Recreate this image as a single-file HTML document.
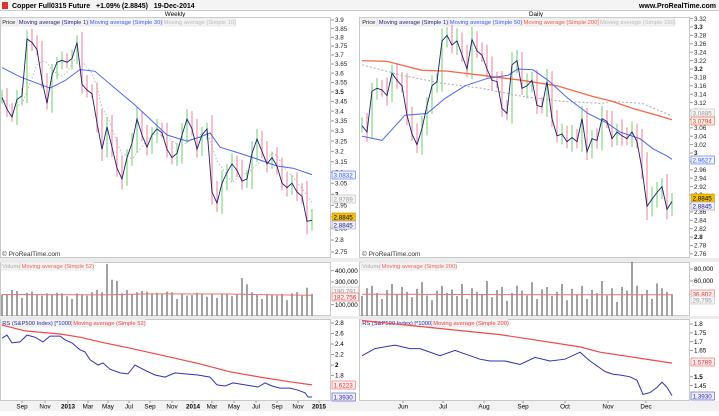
<!DOCTYPE html>
<html><head><meta charset="utf-8"><style>
body{margin:0;background:#fff;width:719px;height:411px;overflow:hidden;font-family:"Liberation Sans",sans-serif;}
svg text{font-family:"Liberation Sans",sans-serif;}
</style></head><body>
<svg id="c" width="719" height="411" viewBox="0 0 719 411" xmlns="http://www.w3.org/2000/svg">
<rect x="0" y="0" width="719" height="411" fill="#fff"/>
<rect x="0" y="0" width="719" height="10" fill="#f4f4f4"/>
<line x1="0" y1="10.5" x2="719" y2="10.5" stroke="#ccc"/>
<rect x="2" y="2" width="6" height="7" fill="#d33"/>
<text x="12" y="8" font-size="7" font-weight="bold">Copper Full0315 Future&#160;&#160;&#160;+1.09% (2.8845)&#160;&#160;&#160;19-Dec-2014</text>
<text x="716" y="8" font-size="7" font-weight="bold" text-anchor="end">www.ProRealTime.com</text>
<text x="175" y="16" font-size="6.3" text-anchor="middle">Weekly</text>
<text x="536" y="16" font-size="6.3" text-anchor="middle">Daily</text>
<g id="g"></g>
</svg>
<script>
// ---------- WEEKLY DATA ----------
const wkClose=[3.47,3.41,3.37,3.46,3.48,3.79,3.77,3.73,3.56,3.44,3.59,3.66,3.67,3.66,3.68,3.77,3.54,3.51,3.49,3.34,3.21,3.32,3.22,3.12,3.07,3.17,3.24,3.36,3.28,3.22,3.28,3.31,3.29,3.21,3.17,3.19,3.28,3.36,3.31,3.21,3.28,3.31,3.01,2.96,3.05,3.10,3.14,3.11,3.06,3.07,3.19,3.26,3.20,3.14,3.17,3.13,3.05,3.03,3.05,3.01,2.99,2.88,2.8845];
const wkWick=[0.04,0.05,0.03,0.05,0.04,0.05,0.06,0.04,0.05,0.04,0.06,0.03,0.05,0.04,0.05,0.04,0.06,0.05,0.03,0.06,0.07,0.05,0.06,0.05,0.06,0.04,0.05,0.06,0.04,0.05,0.04,0.05,0.03,0.05,0.04,0.05,0.06,0.05,0.04,0.05,0.04,0.03,0.07,0.05,0.06,0.04,0.05,0.04,0.05,0.04,0.06,0.05,0.04,0.05,0.03,0.05,0.04,0.05,0.04,0.05,0.04,0.07,0.05];
const wkMa30Idx=[0,3.6,9.6,12.6,15.6,18.6,23,26.2,29.6,33,37,39.6,41.6,43.6,47.6,50.2,55,58.2,62];
const wkMa30Val=[3.63,3.58,3.52,3.56,3.62,3.61,3.51,3.44,3.36,3.28,3.25,3.27,3.29,3.22,3.19,3.17,3.13,3.12,3.09];
const wkVol=[190,195,230,220,160,205,215,190,180,200,190,205,200,175,150,200,185,180,210,230,210,460,320,310,200,230,190,210,220,215,200,205,195,215,210,150,200,180,185,205,200,170,195,160,200,190,175,190,335,280,210,185,150,195,190,180,195,140,200,210,180,250,195];
const wkVolMaIdx=[0,20,30,45,55,62];
const wkVolMaVal=[190,186,195,194,186,183];
const wkRsIdx=[0,1,2,3.6,5,6.6,8.2,9.6,11.6,12.6,14,15.6,16.6,17.6,19.2,20.2,21.6,23.6,25.2,26.6,28.6,30.6,32.6,34.6,36.6,39.2,41.6,43,44.6,46.2,48.6,51.2,52.6,54,55.6,57.6,59.2,60.6,61.2,62];
const wkRsVal=[2.51,2.57,2.42,2.44,2.57,2.53,2.44,2.55,2.55,2.48,2.42,2.29,2.25,2.10,2.00,2.04,1.92,1.85,1.83,2.00,1.90,1.81,1.77,1.85,1.83,1.81,1.77,1.62,1.60,1.66,1.62,1.58,1.66,1.60,1.56,1.56,1.52,1.47,1.39,1.39];
const wkRsMaIdx=[0,4.6,11.6,15.6,19.6,25.6,33.6,39.6,45.6,51.6,57.6,62];
const wkRsMaVal=[2.76,2.65,2.59,2.53,2.44,2.32,2.15,2.02,1.87,1.77,1.68,1.62];
const wkPriceTicks=[3.9,3.85,3.8,3.75,3.7,3.65,3.6,3.55,3.5,3.45,3.4,3.35,3.3,3.25,3.2,3.15,3.1,3.05,3,2.95,2.9,2.85,2.8,2.75];
const wkMonthLabels=["Sep","Nov","2013","Mar","May","Jul","Sep","Nov","2014","Mar","May","Jul","Sep","Nov","2015"];
const wkMonthIdx=[4,8.6,13.2,17.2,21.2,25.4,29.6,34,38.2,42,46.4,50.8,55,59.2,63.4];
// ---------- DAILY DATA ----------
const dyClose=[3.065,3.05,3.147,3.154,3.15,3.137,3.19,3.173,3.16,3.09,3.045,3.02,3.058,3.113,3.16,3.17,3.267,3.28,3.257,3.267,3.233,3.20,3.27,3.243,3.233,3.20,3.173,3.17,3.106,3.094,3.21,3.22,3.154,3.16,3.173,3.113,3.11,3.17,3.082,3.041,3.045,3.027,3.037,3.027,3.082,3.003,3.034,3.03,3.082,3.075,3.034,3.05,3.041,3.034,3.05,3.027,2.962,2.873,2.89,2.906,2.92,2.866,2.8845];
const dyWick=[0.02,0.03,0.02,0.025,0.02,0.03,0.02,0.025,0.02,0.03,0.02,0.025,0.03,0.02,0.025,0.02,0.03,0.02,0.025,0.03,0.02,0.025,0.03,0.02,0.02,0.025,0.03,0.02,0.025,0.02,0.03,0.025,0.02,0.03,0.02,0.025,0.02,0.03,0.025,0.02,0.025,0.02,0.03,0.02,0.03,0.025,0.02,0.025,0.03,0.02,0.025,0.02,0.03,0.02,0.025,0.02,0.03,0.04,0.03,0.025,0.02,0.03,0.02];
const dyMa50Idx=[0,4,8.6,13,16.6,20.6,25.2,29.2,31.2,34.2,37.2,41.2,45.2,49.2,51.6,55.6,58.2,61,62];
const dyMa50Val=[3.04,3.03,3.09,3.094,3.13,3.16,3.178,3.185,3.20,3.198,3.173,3.13,3.094,3.07,3.05,3.034,3.01,2.993,2.985];
const dyMa200Idx=[0,5,12,17,24,32,39,46,50,54.2,59,62];
const dyMa200Val=[3.22,3.218,3.197,3.195,3.185,3.173,3.16,3.135,3.123,3.106,3.09,3.0794];
const dyMa150Idx=[0,8,16,24,32,40,48,50,56,62];
const dyMa150Val=[3.21,3.185,3.166,3.154,3.135,3.123,3.118,3.123,3.118,3.0885];
const dyVol=[35,48,52,40,30,45,55,38,50,42,33,47,58,36,28,44,52,40,46,35,55,30,48,42,38,60,33,45,50,27,40,52,44,36,58,30,46,50,35,42,55,28,47,38,52,30,45,40,60,36,48,25,50,44,92,52,38,45,30,56,48,42,38];
const dyVolMaIdx=[0,20,40,62];
const dyVolMaVal=[38,37.5,37,37];
const dyRsIdx=[0,2.6,6.6,9.6,11.6,15.6,18.6,21.6,23.6,25.6,28.6,31.6,34.6,37.6,40.6,43.6,45.6,47.6,48.6,50.2,51.6,53.6,55,56.2,57.6,59,60,61,62];
const dyRsVal=[1.62,1.66,1.68,1.66,1.66,1.62,1.65,1.62,1.60,1.59,1.59,1.57,1.61,1.59,1.60,1.64,1.59,1.55,1.53,1.515,1.51,1.50,1.48,1.40,1.41,1.44,1.47,1.44,1.393];
const dyRsMaIdx=[0,13.6,27.6,43.6,47.6,62];
const dyRsMaVal=[1.82,1.78,1.74,1.67,1.64,1.578];
const dyPriceTicks=[3.32,3.3,3.28,3.26,3.24,3.22,3.2,3.18,3.16,3.14,3.12,3.1,3.08,3.06,3.04,3.02,3,2.98,2.96,2.94,2.92,2.9,2.88,2.86,2.84,2.82,2.8,2.78,2.76];
const dyMonthLabels=["Jun","Jul","Aug","Sep","Oct","Nov","Dec"];
const dyMonthIdx=[8.2,16.2,24.4,32.2,40.6,49.2,56.8];

// ---------- AXES ----------
const wx=i=>2+i*5;
const dx=i=>362+i*5;
const wy=p=>20+664*Math.log(3.9/p);
const dyy=p=>27+(3.3-p)*420;
const wvy=v=>316-v*0.1133;
const dvy=v=>317-v*0.6;
const wry=v=>323+(2.8-v)*52.5;
const dry=v=>324+(1.8-v)*176;

const NS='http://www.w3.org/2000/svg';
const G=document.getElementById('g');
function mk(tag,attrs,parent){const e=document.createElementNS(NS,tag);for(const k in attrs)e.setAttribute(k,attrs[k]);(parent||G).appendChild(e);return e;}
function txt(x,y,s,attrs,parent){const e=mk('text',Object.assign({x:x,y:y,'font-size':6.3},attrs||{}),parent);e.textContent=s;return e;}

function frame(x,y,w,h,name){const r=mk('rect',{x:x,y:y,width:w,height:h,fill:'none',stroke:'#c8c8c8','stroke-width':1});

}
mk('rect',{x:0,y:258,width:719,height:4,fill:'#ececec'});
mk('rect',{x:0,y:316,width:719,height:3,fill:'#ececec'});
mk('rect',{x:0,y:401,width:719,height:10,fill:'#f2f2f2'});
frame(0.5,17.5,330,240,'weekly-price-panel');
frame(359.5,17.5,330,240,'daily-price-panel');
frame(0.5,262.5,330,53,'weekly-volume-panel');
frame(359.5,262.5,330,53,'daily-volume-panel');
frame(0.5,319.5,330,81,'weekly-rs-panel');
frame(359.5,319.5,330,81,'daily-rs-panel');

function legend(x,y,items,name){const g=mk('g',{});


let cx=x;items.forEach(it=>{const w=it[0].length*2.72+2.5;mk('rect',{x:cx,y:y-6,width:w,height:8,fill:'#f3f3f3',stroke:'#ddd','stroke-width':0.5},g);txt(cx+1.2,y,it[0],{fill:it[1],'font-size':5.8},g);cx+=w+0.5;});}
legend(1,24,[["Price","#222"],["Moving average (Simple 1)","#1c1c80"],["Moving average (Simple 30)","#3a5cf0"],["Moving average (Simple 10)","#bbb"]],'weekly-price-legend');
legend(361,24,[["Price","#222"],["Moving average (Simple 1)","#1c1c80"],["Moving average (Simple 50)","#3a5cf0"],["Moving average (Simple 200)","#f05a3a"],["Moving average (Simple 150)","#bbb"]],'daily-price-legend');
legend(1,268,[["Volume","#aaa"],["Moving average (Simple 52)","#f06060"]],'weekly-volume-legend');
legend(361,268,[["Volume","#aaa"],["Moving average (Simple 200)","#f06060"]],'daily-volume-legend');
legend(1,325,[["RS (S&P500 Index) [*1000]","#2a2aa0"],["Moving average (Simple 52)","#f04040"]],'weekly-rs-legend');
legend(361,325,[["RS (S&P500 Index) [*1000]","#2a2aa0"],["Moving average (Simple 200)","#f04040"]],'daily-rs-legend');
txt(2,256,'© ProRealTime.com',{'font-size':6.5,fill:'#333'});
txt(362,256,'© ProRealTime.com',{'font-size':6.5,fill:'#333'});

wkPriceTicks.forEach(t=>{const y=wy(t);mk('line',{x1:331,y1:y,x2:334,y2:y,stroke:'#999'});const b=(Math.abs(t-3.5)<1e-6||Math.abs(t-3)<1e-6);const e=txt(335,y+2.2,String(t),{'font-weight':b?'bold':'normal',fill:'#222'});

});
dyPriceTicks.forEach(t=>{const y=dyy(t);mk('line',{x1:690,y1:y,x2:693,y2:y,stroke:'#999'});const b=[3.3,3.2,3,2.8].some(v=>Math.abs(v-t)<1e-6);const e=txt(694,y+2.2,String(t),{'font-weight':b?'bold':'normal',fill:'#222'});

});

function bars(closes,wicks,xf,yf,name){closes.forEach((c,i)=>{const o=i>0?closes[i-1]:c;const hi=Math.max(o,c)+wicks[i];const lo=Math.min(o,c)-wicks[i]*0.8;const up=c>=o;const l=mk('line',{x1:xf(i),x2:xf(i),y1:yf(hi),y2:yf(lo),stroke:up?'#8fdc8f':'#f49ab0','stroke-width':1.3});

});}
function poly(xs,ys,attrs,name){const p=mk('polyline',Object.assign({points:xs.map((x,i)=>x.toFixed(1)+','+ys[i].toFixed(1)).join(' '),fill:'none'},attrs));

}
function sma(a,n){return a.map((v,i)=>{const s=a.slice(Math.max(0,i-n+1),i+1);return s.reduce((x,y)=>x+y,0)/s.length;});}

bars(wkClose,wkWick,wx,wy,'weekly-price-bar');
const wk10=sma(wkClose,5);
poly(wk10.map((v,i)=>wx(i)),wk10.map(wy),{stroke:'#bbb','stroke-width':1,'stroke-dasharray':'1.5,2'},'weekly-ma10-line');
poly(wkMa30Idx.map(wx),wkMa30Val.map(wy),{stroke:'#4a66f0','stroke-width':1},'weekly-ma30-line');
poly(wkClose.map((v,i)=>wx(i)),wkClose.map(wy),{stroke:'#1c1c70','stroke-width':0.9},'weekly-close-line');
bars(dyClose,dyWick,dx,dyy,'daily-price-bar');
poly(dyMa150Idx.map(dx),dyMa150Val.map(dyy),{stroke:'#aaa','stroke-width':1,'stroke-dasharray':'2,2'},'daily-ma150-line');
poly(dyMa200Idx.map(dx),dyMa200Val.map(dyy),{stroke:'#f26a48','stroke-width':1.3},'daily-ma200-line');
poly(dyMa50Idx.map(dx),dyMa50Val.map(dyy),{stroke:'#4a66f0','stroke-width':1},'daily-ma50-line');
poly(dyClose.map((v,i)=>dx(i)),dyClose.map(dyy),{stroke:'#1c1c70','stroke-width':0.9},'daily-close-line');

wkVol.forEach((v,i)=>{const r=mk('rect',{x:wx(i)-0.8,y:wvy(v),width:1.6,height:316-wvy(v),fill:'#8a8a8a'});

});
poly(wkVolMaIdx.map(wx),wkVolMaVal.map(wvy),{stroke:'#f07070','stroke-width':1},'weekly-volume-ma');
dyVol.forEach((v,i)=>{const r=mk('rect',{x:dx(i)-0.8,y:dvy(v),width:1.6,height:316-dvy(v),fill:'#8a8a8a'});

});
poly(dyVolMaIdx.map(dx),dyVolMaVal.map(dvy),{stroke:'#f07070','stroke-width':1},'daily-volume-ma');
[[400,'400,000'],[300,'300,000'],[100,'100,000']].forEach(t=>{const y=wvy(t[0]);mk('line',{x1:331,y1:y,x2:334,y2:y,stroke:'#999'});txt(335,y+2.2,t[1]);});
[[80,'80,000'],[60,'60,000']].forEach(t=>{const y=dvy(t[0]);mk('line',{x1:690,y1:y,x2:693,y2:y,stroke:'#999'});txt(694,y+2.2,t[1]);});

poly(wkRsMaIdx.map(wx),wkRsMaVal.map(wry),{stroke:'#f04848','stroke-width':1.2},'weekly-rs-ma');
poly(wkRsIdx.map(wx),wkRsVal.map(wry),{stroke:'#3030b0','stroke-width':1},'weekly-rs-line');
poly(dyRsMaIdx.map(dx),dyRsMaVal.map(dry),{stroke:'#f04848','stroke-width':1.2},'daily-rs-ma');
poly(dyRsIdx.map(dx),dyRsVal.map(dry),{stroke:'#3030b0','stroke-width':1},'daily-rs-line');
[2.8,2.6,2.4,2.2,2,1.8].forEach(t=>{const y=wry(t);mk('line',{x1:331,y1:y,x2:334,y2:y,stroke:'#999'});txt(335,y+2.2,String(t),{'font-weight':t===2?'bold':'normal'});});
[1.8,1.75,1.7,1.65,1.5,1.45].forEach(t=>{const y=dry(t);mk('line',{x1:690,y1:y,x2:693,y2:y,stroke:'#999'});txt(694,y+2.2,String(t),{'font-weight':t===1.5?'bold':'normal'});});

function box(x,y,s,fill,stroke,color,name){const g=mk('g',{});


mk('rect',{x:x,y:y-4,width:s.length*3.4+3,height:8,fill:fill,stroke:stroke,'stroke-width':0.6},g);txt(x+1.5,y+2.3,s,{fill:color,'font-size':6.3},g);}
box(332,175,'3.0832','#eef1ff','#4a66f0','#3a5cf0','weekly-ma30-value');
box(332,199,'2.9789','#f5f5f5','#bbb','#999','weekly-ma10-value');
box(332,217,'2.8845','#f5c000','#c09000','#000','weekly-price-value');
box(332,225,'2.8845','#eef','#99b','#1c1c70','weekly-close-value');
box(691,113,'3.0885','#f5f5f5','#bbb','#999','daily-ma150-value');
box(691,121,'3.0794','#fff0ec','#f05a3a','#e04020','daily-ma200-value');
box(691,160,'2.9627','#eef1ff','#4a66f0','#3a5cf0','daily-ma50-value');
box(691,198,'2.8845','#f5c000','#c09000','#000','daily-price-value');
box(691,206,'2.8845','#eef','#99b','#1c1c70','daily-close-value');
box(332,291,'190,791','#f5f5f5','#bbb','#999','weekly-volume-value');
box(332,297,'182,756','#fff0f0','#f06060','#e03030','weekly-volume-ma-value');
box(691,294,'36,802','#fff0f0','#f06060','#e03030','daily-volume-ma-value');
box(691,300,'29,795','#f5f5f5','#bbb','#999','daily-volume-value');
box(332,385,'1.6223','#fff0f0','#f06060','#e03030','weekly-rs-ma-value');
box(332,397,'1.3930','#eef','#4a4ab0','#2a2aa0','weekly-rs-value');
box(691,362,'1.5789','#fff0f0','#f06060','#e03030','daily-rs-ma-value');
box(691,396,'1.3930','#eef','#4a4ab0','#2a2aa0','daily-rs-value');

wkMonthLabels.forEach((s,i)=>{const x=wx(wkMonthIdx[i]);mk('line',{x1:x,y1:401,x2:x,y2:403,stroke:'#999'});const e=txt(x,408.5,s,{'text-anchor':'middle','font-weight':/^\d/.test(s)?'bold':'normal'});

});
dyMonthLabels.forEach((s,i)=>{const x=dx(dyMonthIdx[i]);mk('line',{x1:x,y1:401,x2:x,y2:403,stroke:'#999'});const e=txt(x,408.5,s,{'text-anchor':'middle'});

});
</script>
</body></html>
